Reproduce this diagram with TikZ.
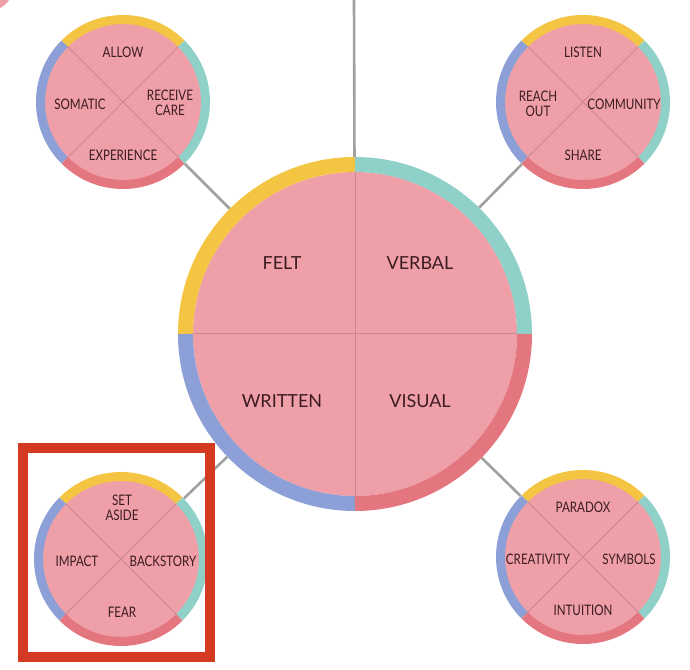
\documentclass[tikz,border=0pt]{standalone}
\usepackage{fontspec}
\setmainfont{Lato}
\newfontfamily\narrowfont[FakeStretch=0.8]{Lato}
\usepackage{tikz}
\definecolor{WSPink}{HTML}{EF9FA7}
\definecolor{WSYellow}{HTML}{F4C542}
\definecolor{WSTeal}{HTML}{8FD0C8}
\definecolor{WSBlue}{HTML}{8C9FD6}
\definecolor{WSRed}{HTML}{E4767F}
\definecolor{WSDivide}{HTML}{C98890}
\definecolor{WSGrey}{HTML}{A0A0A0}
\definecolor{WSText}{HTML}{3B1C22}
\definecolor{WSBox}{HTML}{D43A22}

\begin{document}
\begin{tikzpicture}[x=1pt,y=1pt,
  hub/.style={circle,inner sep=0pt,minimum size=354pt},
  bud/.style={circle,inner sep=0pt,minimum size=174pt},
  biglabel/.style={text=WSText,font=\fontsize{18}{20}\selectfont},
  budlabel/.style={text=WSText,align=center,font=\narrowfont\fontsize{14.5}{15.5}\selectfont},
  link/.style={WSGrey,line width=2.6pt}]
\path[use as bounding box] (0,0) rectangle (690,669);
% circles (outlines only, used as anchors)
\node[hub] (main) at (355,335) {};
\node[bud] (tl) at (123,567) {};
\node[bud] (tr) at (583,567) {};
\node[bud] (bl) at (121,110) {};
\node[bud] (br) at (583,112) {};
\coordinate (top) at (354,669);
% connectors
\draw[link] (top) -- (main);
\foreach \b in {tl,tr,bl,br}
  \draw[link] (\b) -- (main);
% corner fragment
\fill[WSPink] (0,669) -- (9,669) to[bend left=15] (0,661) -- cycle;
% main circle
\fill[WSPink] (main) circle (162);
\draw[WSYellow,line width=15] (main) ++(90:169.5) arc[start angle=90,end angle=180,radius=169.5];
\draw[WSTeal,line width=15] (main) ++(0:169.5) arc[start angle=0,end angle=90,radius=169.5];
\draw[WSBlue,line width=15] (main) ++(180:169.5) arc[start angle=180,end angle=270,radius=169.5];
\draw[WSRed,line width=15] (main) ++(270:169.5) arc[start angle=270,end angle=360,radius=169.5];
\draw[WSDivide,line width=1] (main) ++(0,162) -- ++(0,-324);
\draw[WSDivide,line width=1] (main) ++(-162,0) -- ++(324,0);
% small circles
\foreach \b in {tl,tr,bl,br} {
  \fill[WSPink] (\b) circle (79);
  \draw[WSYellow,line width=9] (\b) ++(45:82.5) arc[start angle=45,end angle=135,radius=82.5];
  \draw[WSTeal,line width=9] (\b) ++(-45:82.5) arc[start angle=-45,end angle=45,radius=82.5];
  \draw[WSBlue,line width=9] (\b) ++(135:82.5) arc[start angle=135,end angle=225,radius=82.5];
  \draw[WSRed,line width=9] (\b) ++(225:82.5) arc[start angle=225,end angle=315,radius=82.5];
  \draw[WSDivide,line width=0.9] (\b) ++(45:78) -- ++(225:156);
  \draw[WSDivide,line width=0.9] (\b) ++(135:78) -- ++(315:156);
}
% labels
\node[biglabel] (felt) at (282,406) {FELT};
\node[biglabel] (verbal) at (420,406) {VERBAL};
\node[biglabel] (written) at (282,268) {WRITTEN};
\node[biglabel] (visual) at (420,268) {VISUAL};
\node[budlabel] (allow) at (123,617) {ALLOW};
\node[budlabel] (somatic) at (80,565) {SOMATIC};
\node[budlabel] (receive) at (170,566) {RECEIVE\\CARE};
\node[budlabel] (experience) at (123,514) {EXPERIENCE};
\node[budlabel] (listen) at (583,617) {LISTEN};
\node[budlabel] (reach) at (538,565) {REACH\\OUT};
\node[budlabel] (community) at (624,565) {COMMUNITY};
\node[budlabel] (share) at (583,514) {SHARE};
\node[budlabel] (setaside) at (122,161) {SET\\ASIDE};
\node[budlabel] (impact) at (77,108) {IMPACT};
\node[budlabel] (backstory) at (163,108) {BACKSTORY};
\node[budlabel] (fear) at (122,57) {FEAR};
\node[budlabel] (paradox) at (583,162) {PARADOX};
\node[budlabel] (creativity) at (538,110) {CREATIVITY};
\node[budlabel] (symbols) at (629,110) {SYMBOLS};
\node[budlabel] (intuition) at (583,59) {INTUITION};
% highlight box
\draw[WSBox,line width=10] (23,12) rectangle (210,221);
\end{tikzpicture}
\end{document}
